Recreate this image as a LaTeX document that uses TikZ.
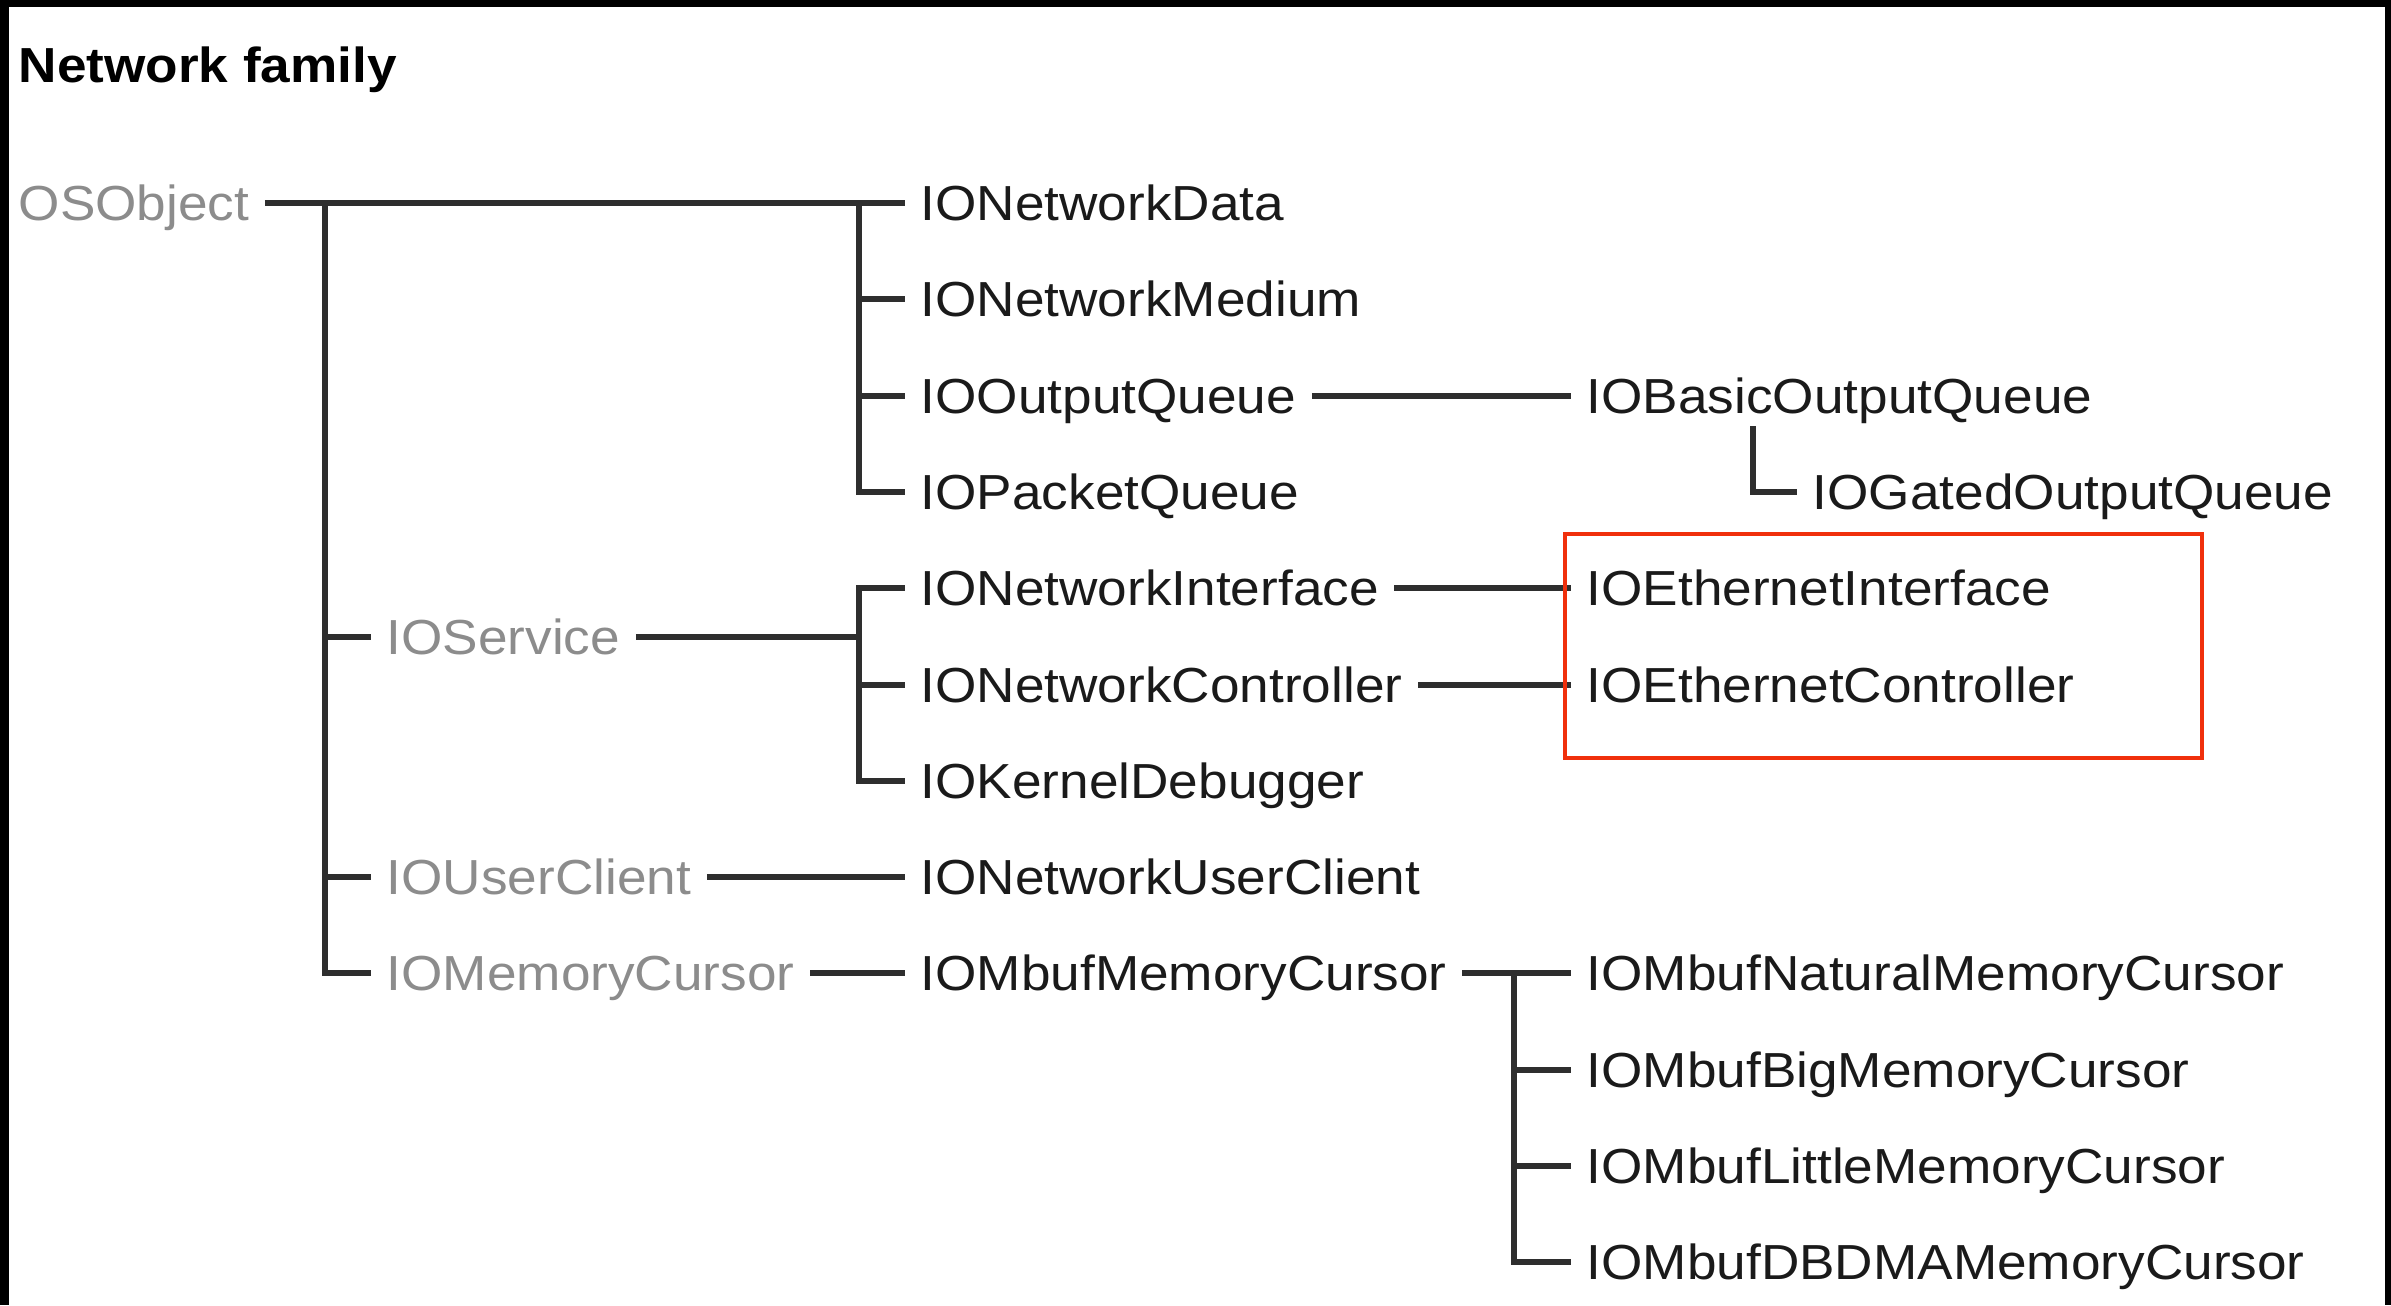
\documentclass[tikz,border=0pt]{standalone}
\usepackage{fontspec}
\setmainfont{Liberation Sans}[FakeStretch=1.08]
\usepackage{tikz}
\usetikzlibrary{positioning, calc}

\definecolor{linegray}{HTML}{2E2E2E}
\definecolor{basegray}{HTML}{8C8C8C}
\definecolor{textblack}{HTML}{1A1A1A}
\definecolor{hlred}{HTML}{F0300C}

\tikzset{
    cls/.style={anchor=west, inner xsep=0.15cm, inner ysep=0.12cm, text height=10pt, text depth=0pt,
        font=\fontsize{14}{16}\selectfont, text=textblack},
    basecls/.style={cls, text=basegray},
    link/.style={draw=linegray, line width=1.5pt},
}

\begin{document}
\begin{tikzpicture}[x=0.01cm, y=-0.01cm]
    \useasboundingbox (0,0) rectangle (2391,1305);
    % Frame
    \fill[black] (0,0) rectangle (9,1305);
    \fill[black] (0,0) rectangle (2391,7);
    \fill[black] (2385,0) rectangle (2391,1305);

    % Title
    \node[anchor=base west, inner sep=0, font=\fontsize{14}{16}\selectfont\bfseries] (title) at (18,82) {Network family};

    % Base classes
    \node[basecls] (osobject) at (3,203) {OSObject};
    \node[basecls] (service) at (371,637) {IOService};
    \node[basecls] (uclient) at (371,877) {IOUserClient};
    \node[basecls] (mcursor) at (371,973) {IOMemoryCursor};

    % Network classes
    \node[cls] (netdata) at (905,203) {IONetworkData};
    \node[cls] (medium) at (905,299) {IONetworkMedium};
    \node[cls] (outq) at (905,396) {IOOutputQueue};
    \node[cls] (pktq) at (905,492) {IOPacketQueue};
    \node[cls] (netif) at (905,588) {IONetworkInterface};
    \node[cls] (netctl) at (905,685) {IONetworkController};
    \node[cls] (kdbg) at (905,781) {IOKernelDebugger};
    \node[cls] (nuclient) at (905,877) {IONetworkUserClient};
    \node[cls] (mbuf) at (905,973) {IOMbufMemoryCursor};

    % Subclasses
    \node[cls] (basic) at (1571,396) {IOBasicOutputQueue};
    \node[cls] (gated) at (1797,492) {IOGatedOutputQueue};
    \node[cls] (ethif) at (1571,588) {IOEthernetInterface};
    \node[cls] (ethctl) at (1571,685) {IOEthernetController};
    \node[cls] (natural) at (1571,973) {IOMbufNaturalMemoryCursor};
    \node[cls] (big) at (1571,1070) {IOMbufBigMemoryCursor};
    \node[cls] (little) at (1571,1166) {IOMbufLittleMemoryCursor};
    \node[cls] (dbdma) at (1571,1262) {IOMbufDBDMAMemoryCursor};

    % Junctions
    \coordinate (jA) at (325,203);
    \coordinate (jB) at (859,203);
    \coordinate (jC) at (859,637);
    \coordinate (jD) at (1514,973);

    % Tree lines
    \draw[link] (osobject.east) -- (netdata.west);
    \draw[link] (jA) |- (service.west);
    \draw[link] (jA) |- (uclient.west);
    \draw[link] (jA) |- (mcursor.west);
    \draw[link] (jB) |- (medium.west);
    \draw[link] (jB) |- (outq.west);
    \draw[link] (jB) |- (pktq.west);
    \draw[link] (service.east) -- (jC);
    \draw[link] (jC) |- (netif.west);
    \draw[link] (jC) |- (netctl.west);
    \draw[link] (jC) |- (kdbg.west);
    \draw[link] (uclient.east) -- (nuclient.west);
    \draw[link] (mcursor.east) -- (mbuf.west);
    \draw[link] (outq.east) -- (basic.west);
    \draw[link] (basic.south west) ++(182,0) |- (gated.west);
    \draw[link] (netif.east) -- (ethif.west);
    \draw[link] (netctl.east) -- (ethctl.west);
    \draw[link] (mbuf.east) -- (natural.west);
    \draw[link] (jD) |- (big.west);
    \draw[link] (jD) |- (little.west);
    \draw[link] (jD) |- (dbdma.west);

    % Ethernet highlight
    \draw[hlred, line width=1.3pt] (1565,534) rectangle (2202,758);
\end{tikzpicture}
\end{document}
